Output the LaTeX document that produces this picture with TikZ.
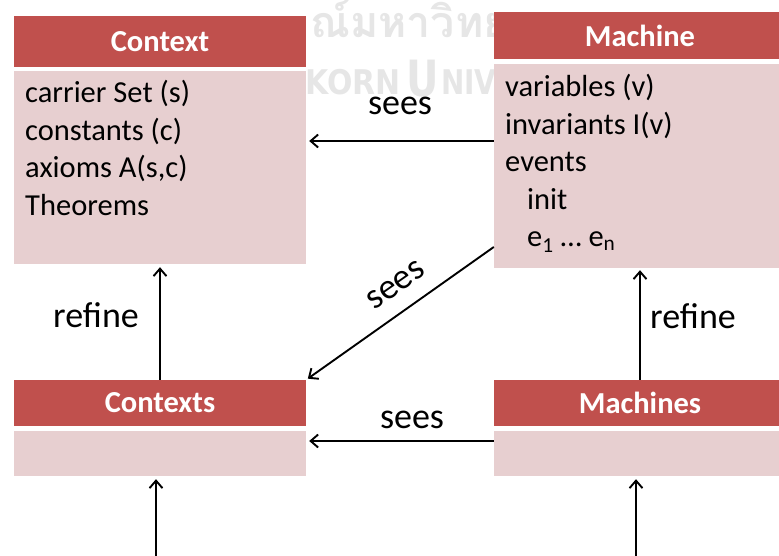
\documentclass[tikz,border=0pt]{standalone}
\usepackage{fontspec}
\setmainfont{Carlito}
\newfontfamily\thaifont[Script=Thai]{Loma}
\newfontfamily\wmfont{DejaVu Sans}
\usetikzlibrary{arrows.meta}
\definecolor{hdrred}{HTML}{C0504D}
\definecolor{bodypink}{HTML}{E7CFD0}
\definecolor{wmgray}{HTML}{E6E6E6}
\begin{document}
\begin{tikzpicture}[x=1pt,y=-1pt,
  hdr/.style={fill=hdrred, text=white, font=\fontsize{30.5}{37}\selectfont\bfseries,
    inner sep=0pt, minimum width=292pt},
  bodybox/.style={fill=bodypink, inner sep=0pt, minimum width=292pt},
  entry/.style={font=\fontsize{30.5}{37}\selectfont, inner sep=0pt, anchor=base west},
  lbl/.style={font=\fontsize{36}{40}\selectfont, inner sep=0pt},
  arr/.style={line width=1.9pt, -{Straight Barb[length=7.5pt,width=13pt]}},
  wm/.style={text=wmgray, inner sep=0pt, anchor=base west}
]
\useasboundingbox (0,0) rectangle (779,556);

% faint university watermark behind the boxes
\node[wm, font=\thaifont\bfseries\fontsize{43}{43}\selectfont] (wmth) at (310,38) {ณ์มหาวิทย};
\node[wm, font=\wmfont\bfseries\fontsize{34}{34}\selectfont, xscale=0.88] (wmk) at (305,95) {KORN};
\node[wm, font=\wmfont\bfseries\fontsize{50}{50}\selectfont, xscale=0.8] (wmu) at (406,97) {U};
\node[wm, font=\wmfont\bfseries\fontsize{34}{34}\selectfont, xscale=0.82] (wmn) at (441,95) {NIV};

% Context
\node[hdr, minimum height=51pt] (chdr) at (160,41.5) {Context};
\node[bodybox, minimum height=193pt] (cbody) at (160,167.5) {};
\node[entry] (c1) at (25,103) {carrier Set (s)};
\node[entry] (c2) at (25,140.5) {constants (c)};
\node[entry] (c3) at (25,178) {axioms A(s,c)};
\node[entry] (c4) at (25,215.5) {Theorems};

% Machine
\node[hdr, minimum height=47pt] (mhdr) at (640,35.5) {Machine};
\node[bodybox, minimum height=204pt] (mbody) at (640,166) {};
\node[entry] (m1) at (505,97) {variables (v)};
\node[entry] (m2) at (505,134.5) {invariants I(v)};
\node[entry] (m3) at (505,172) {events};
\node[entry] (m4) at (527,209.5) {init};
\node[entry] (m5) at (527,247) {e\textsubscript{1} … e\textsubscript{n}};

% Contexts
\node[hdr, minimum height=46pt] (cshdr) at (160,403) {Contexts};
\node[bodybox, minimum height=45pt] (csbody) at (160,453.5) {};

% Machines
\node[hdr, minimum height=46pt] (mshdr) at (640,403) {Machines};
\node[bodybox, minimum height=45pt] (msbody) at (640,453.5) {};

% sees relations
\draw[arr, shorten >=3pt] (mbody.west |- 0,141) -- (cbody.east |- 0,141);
\node[lbl, anchor=base] (s1) at (400,115) {sees};
\draw[arr, shorten >=2pt] (mbody.west |- 0,247) -- (cshdr.north east);
\node[lbl, rotate=35] (s2) at (396,285) {sees};
\draw[arr, shorten >=3pt] (msbody.west |- 0,441) -- (csbody.east |- 0,441);
\node[lbl, anchor=base] (s3) at (412,428) {sees};

% refine relations
\draw[arr, shorten >=3pt] (cshdr.north) -- (cbody.south);
\node[lbl, anchor=base] (r1) at (96,327) {refine};
\draw[arr, shorten >=2pt] (mshdr.north) -- (mbody.south);
\node[lbl, anchor=base] (r2) at (693,328) {refine};

% incoming refinements from below
\coordinate (cin) at (156,560);
\coordinate (min) at (636,560);
\draw[arr, shorten >=3pt] (cin) -- (cin |- csbody.south);
\draw[arr, shorten >=3pt] (min) -- (min |- msbody.south);
\end{tikzpicture}
\end{document}
